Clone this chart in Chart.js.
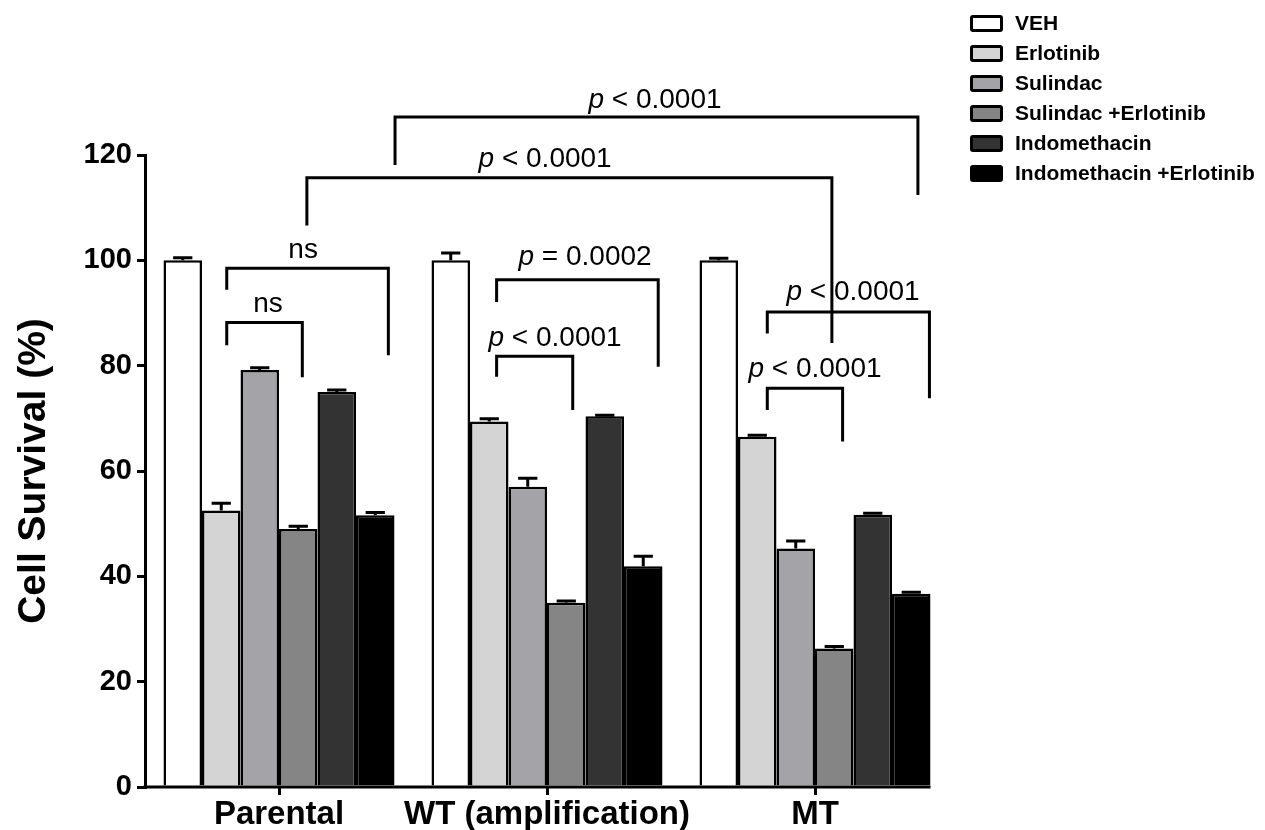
<!DOCTYPE html>
<html>
<head>
<meta charset="utf-8">
<script src="https://cdn.jsdelivr.net/npm/chart.js@4.4.1/dist/chart.umd.min.js"></script>
<style>
  html, body { margin: 0; padding: 0; background: #fff; }
  #wrap { position: relative; width: 1265px; height: 830px; }
  #chart { position: absolute; left: 0; top: 0; }
  .lg { position: absolute; left: 970px; height: 30px; display: flex; align-items: center;
        font-family: "Liberation Sans", Arial, sans-serif; font-weight: bold; font-size: 21px; color: #000; white-space: nowrap; }
  .lg .bx { width: 27px; height: 11px; border: 3px solid #000; border-radius: 3px; margin-right: 12px; }
</style>
</head>
<body>
<div id="wrap">
  <canvas id="chart" width="1265" height="830"></canvas>
  <div id="legend"></div>
</div>
<script>
// ---------------- data ----------------
const categories = ['Parental', 'WT (amplification)', 'MT'];
const seriesNames = ['VEH', 'Erlotinib', 'Sulindac', 'Sulindac +Erlotinib', 'Indomethacin', 'Indomethacin +Erlotinib'];

const vehValues       = [100.0, 100.0, 100.0];
const erlotinibValues = [52.5, 69.4, 66.5];
const sulindacValues  = [79.2, 57.0, 45.3];
const sulErlValues    = [49.0, 35.0, 26.3];
const indoValues      = [75.0, 70.4, 51.7];
const indoErlValues   = [51.6, 41.9, 36.7];

const vehErr       = [0.5, 1.4, 0.4];
const erlotinibErr = [1.4, 0.5, 0.3];
const sulindacErr  = [0.4, 1.6, 1.4];
const sulErlErr    = [0.5, 0.3, 0.4];
const indoErr      = [0.4, 0.2, 0.3];
const indoErlErr   = [0.5, 1.9, 0.3];

const yTicks = [0, 20, 40, 60, 80, 100, 120];

// significance comparisons (x in category units, y in % units)
const comparisons = [
  { it: '',  txt: 'ns',        x1: -0.195, x2: 0.087, y: 88.2,  y1: 83.9,  y2: 77.8, tx: -0.041, ty: 91.6 },
  { it: '',  txt: 'ns',        x1: -0.195, x2: 0.408, y: 98.5,  y1: 94.4,  y2: 82.0, tx: 0.090,  ty: 101.9 },
  { it: 'p', txt: ' < 0.0001', x1: 0.812,  x2: 1.096, y: 81.8,  y1: 77.9,  y2: 71.6, tx: 1.030,  ty: 85.2 },
  { it: 'p', txt: ' = 0.0002', x1: 0.812,  x2: 1.415, y: 96.3,  y1: 92.1,  y2: 79.8, tx: 1.142,  ty: 100.5 },
  { it: 'p', txt: ' < 0.0001', x1: 1.822,  x2: 2.103, y: 75.7,  y1: 71.6,  y2: 65.6, tx: 2.000,  ty: 79.4 },
  { it: 'p', txt: ' < 0.0001', x1: 1.822,  x2: 2.427, y: 90.2,  y1: 86.1,  y2: 73.8, tx: 2.142,  ty: 93.9 },
  { it: 'p', txt: ' < 0.0001', x1: 0.104,  x2: 2.063, y: 115.7, y1: 106.6, y2: 84.3, tx: 0.993,  ty: 119.2 },
  { it: 'p', txt: ' < 0.0001', x1: 0.433,  x2: 2.384, y: 127.2, y1: 118.1, y2: 112.4, tx: 1.403, ty: 130.4 }
];

// ---------------- styles ----------------
const colors = ['#ffffff', '#d4d4d4', '#a4a3a7', '#858585', '#333333', '#000000'];
const FONT = '"Liberation Sans", Arial, sans-serif';

const seriesValues = [vehValues, erlotinibValues, sulindacValues, sulErlValues, indoValues, indoErlValues];
const seriesErrors = [vehErr, erlotinibErr, sulindacErr, sulErlErr, indoErr, indoErlErr];

// HTML legend
const lg = document.getElementById('legend');
seriesNames.forEach((n, i) => {
  const d = document.createElement('div');
  d.className = 'lg';
  d.style.top = (8 + i * 30) + 'px';
  const b = document.createElement('span');
  b.className = 'bx';
  b.style.background = colors[i];
  d.appendChild(b);
  d.appendChild(document.createTextNode(n));
  lg.appendChild(d);
});

const annotationPlugin = {
  id: 'annot',
  afterDatasetsDraw(chart) {
    const ctx = chart.ctx, xs = chart.scales.x, ys = chart.scales.y;
    ctx.save();
    ctx.strokeStyle = '#000';
    ctx.lineWidth = 3;
    ctx.lineCap = 'butt';
    // error bars (upper whisker only)
    chart.data.datasets.forEach((ds, i) => {
      const meta = chart.getDatasetMeta(i);
      meta.data.forEach((bar, j) => {
        const v = ds.data[j], e = seriesErrors[i][j];
        const yb = ys.getPixelForValue(v), yt = ys.getPixelForValue(v + e);
        const cw = bar.width * 0.5;
        ctx.beginPath();
        ctx.moveTo(bar.x, yb); ctx.lineTo(bar.x, yt);
        ctx.moveTo(bar.x - cw / 2, yt); ctx.lineTo(bar.x + cw / 2, yt);
        ctx.stroke();
      });
    });
    // x axis baseline up to last bar edge
    const lastMeta = chart.getDatasetMeta(chart.data.datasets.length - 1);
    const lastBar = lastMeta.data[lastMeta.data.length - 1];
    ctx.beginPath();
    ctx.moveTo(chart.chartArea.left - 1.5, chart.chartArea.bottom);
    ctx.lineTo(lastBar.x + lastBar.width / 2, chart.chartArea.bottom);
    ctx.stroke();
    // brackets
    comparisons.forEach(c => {
      const xa = xs.getPixelForValue(c.x1), xb = xs.getPixelForValue(c.x2);
      const yh = ys.getPixelForValue(c.y), ya = ys.getPixelForValue(c.y1), yb = ys.getPixelForValue(c.y2);
      ctx.beginPath();
      ctx.moveTo(xa, ya); ctx.lineTo(xa, yh); ctx.lineTo(xb, yh); ctx.lineTo(xb, yb);
      ctx.stroke();
      const fs = 28;
      const fIt = 'italic ' + fs + 'px ' + FONT, fN = fs + 'px ' + FONT;
      ctx.font = fIt; const w1 = c.it ? ctx.measureText(c.it).width : 0;
      ctx.font = fN; const w2 = ctx.measureText(c.txt).width;
      const cx = xs.getPixelForValue(c.tx), cy = ys.getPixelForValue(c.ty);
      let x0 = cx - (w1 + w2) / 2;
      ctx.fillStyle = '#000';
      ctx.textBaseline = 'middle';
      ctx.textAlign = 'left';
      if (c.it) { ctx.font = fIt; ctx.fillText(c.it, x0, cy); }
      ctx.font = fN; ctx.fillText(c.txt, x0 + w1, cy);
    });
    ctx.restore();
  }
};

new Chart(document.getElementById('chart'), {
  type: 'bar',
  data: {
    labels: categories,
    datasets: seriesNames.map((n, i) => ({
      label: n,
      data: seriesValues[i],
      backgroundColor: colors[i],
      borderColor: '#000',
      borderWidth: 2.5,
      categoryPercentage: 0.862,
      barPercentage: 1.0
    }))
  },
  options: {
    responsive: false,
    animation: false,
    devicePixelRatio: 1,
    layout: { padding: { left: 0, top: 155, right: 316, bottom: 0 } },
    plugins: { legend: { display: false }, tooltip: { enabled: false } },
    scales: {
      x: {
        offset: true,
        grid: { display: true, drawOnChartArea: false, drawTicks: true, tickLength: 8, offset: false, color: '#000', lineWidth: 3 },
        border: { display: false },
        ticks: { color: '#000', padding: 3, font: { family: FONT, size: 33, weight: 'bold', lineHeight: 1.0 }, maxRotation: 0, autoSkip: false },
        afterFit: s => { s.height = 43; }
      },
      y: {
        min: 0, max: 120,
        afterBuildTicks: s => { s.ticks = yTicks.map(v => ({ value: v })); },
        grid: { display: true, drawOnChartArea: false, drawTicks: true, tickLength: 8, color: '#000', lineWidth: 3 },
        border: { display: true, color: '#000', width: 3 },
        ticks: { color: '#000', padding: 5, font: { family: FONT, size: 29, weight: 'bold' } },
        title: { display: true, text: 'Cell Survival (%)', color: '#000', padding: { top: 11, bottom: 0 }, font: { family: FONT, size: 39, weight: 'bold' } },
        afterFit: s => { s.width = 145; }
      }
    }
  },
  plugins: [annotationPlugin]
});
</script>
</body>
</html>
